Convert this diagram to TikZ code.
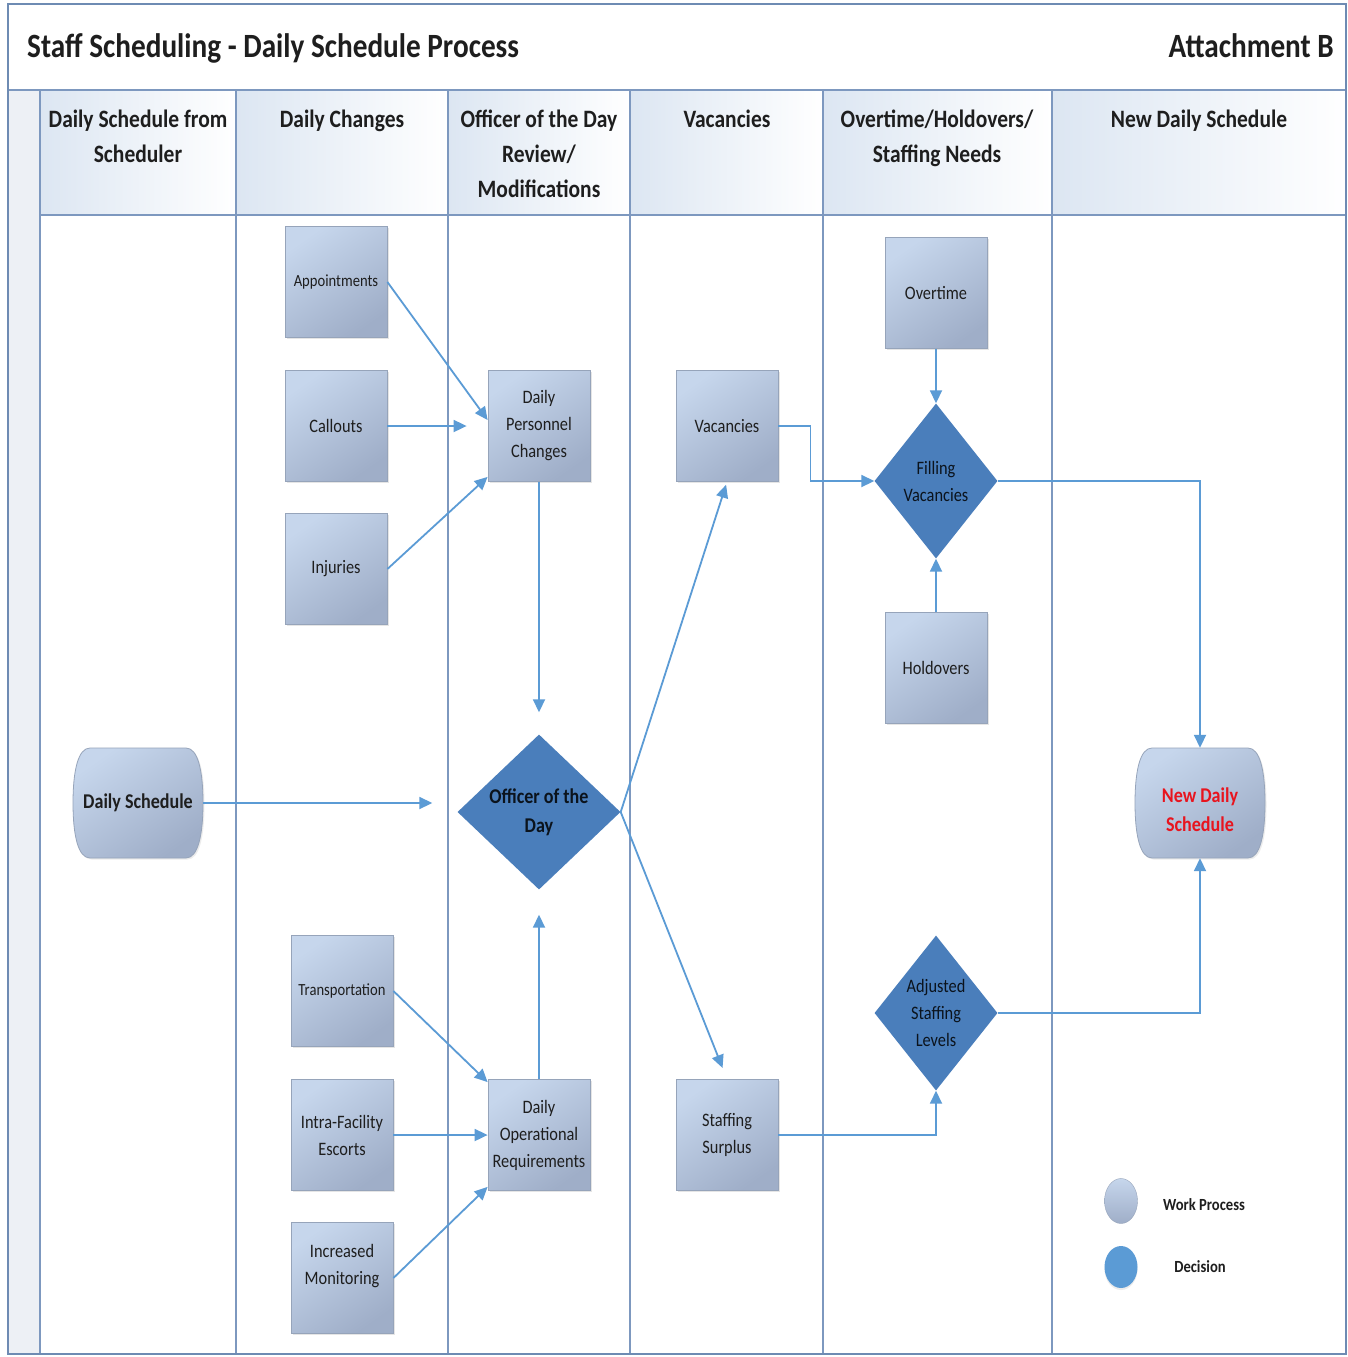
\documentclass[tikz,border=0pt]{standalone}
\usepackage{fontspec}
\setmainfont{Carlito}[FakeStretch=0.86]
\usetikzlibrary{arrows.meta,shapes.geometric,shadows}
\definecolor{conn}{HTML}{5B9BD5}
\definecolor{lane}{HTML}{7D98BF}
\definecolor{framec}{HTML}{6E8BB3}
\definecolor{boxA}{HTML}{C6D6EC}
\definecolor{boxB}{HTML}{9FAEC8}
\definecolor{boxedge}{HTML}{96A4BA}
\definecolor{dia}{HTML}{4A7EBB}
\definecolor{hdr}{HTML}{DCE6F2}
\definecolor{strip}{HTML}{EDF0F5}
\definecolor{txt}{HTML}{1E1E1E}
\definecolor{newred}{HTML}{E8141E}
\definecolor{legblue}{HTML}{5B9BD5}
\tikzset{
  proc/.style={rectangle, draw=boxedge, line width=0.8pt, top color=boxA, bottom color=boxB, shading angle=35,
    minimum width=102pt, minimum height=111pt, inner sep=2pt, align=center, text=txt,
    font=\fontsize{19}{27}\selectfont,
    drop shadow={shadow xshift=1.5pt, shadow yshift=-1.5pt, opacity=0.2}},
  dec/.style={diamond, fill=dia, draw=none, inner sep=0pt, aspect=0.79, minimum width=123pt, minimum height=155pt,
    align=center, text={black!85!dia}, font=\fontsize{19}{27}\selectfont},
  termtext/.style={rectangle, minimum width=130pt, minimum height=110pt,
    inner sep=0pt, align=center, text=txt, font=\bfseries\fontsize{21}{29}\selectfont},
  termshape/.pic={
    \shade[top color=boxA, bottom color=boxB, shading angle=35, draw=boxedge, line width=0.8pt,
      drop shadow={shadow xshift=1.5pt, shadow yshift=-1.5pt, opacity=0.15}]
      (-48,-55) -- (48,-55) .. controls (60,-55) and (65,-32) .. (65,0)
      .. controls (65,32) and (60,55) .. (48,55) -- (-48,55)
      .. controls (-60,55) and (-65,32) .. (-65,0)
      .. controls (-65,-32) and (-60,-55) .. (-48,-55) -- cycle;
  },
  hdrtext/.style={anchor=north, align=center, inner sep=0pt, text=txt, font=\bfseries\fontsize{25}{35}\selectfont},
  arr/.style={draw=conn, line width=1.8pt, -{Triangle[length=13pt,width=12pt]}},
  lanel/.style={draw=lane, line width=1.3pt}
}
\begin{document}
\begin{tikzpicture}[x=1pt,y=-1pt]
\useasboundingbox (0,0) rectangle (1348,1357);
\fill[white] (0,0) rectangle (1348,1357);
% lanes background
\fill[strip] (8,90) rectangle (40,1354);
\foreach \a/\b in {40/236,236/448,448/630,630/823,823/1052,1052/1346}
  \shade[left color=hdr, right color=white] (\a,90) rectangle (\b,215);
\draw[lanel] (8,90) -- (1346,90);
\draw[lanel] (40,215) -- (1346,215);
\foreach \x in {40,236,448,630,823,1052}
  \draw[lanel] (\x,90) -- (\x,1354);
\draw[draw=framec, line width=1.8pt] (8,4) rectangle (1346,1354);

% title
\node[anchor=base west, inner sep=0pt, text=txt, font=\bfseries\fontsize{34}{40}\selectfont] (title) at (27,57) {Staff Scheduling - Daily Schedule Process};
\node[anchor=base east, inner sep=0pt, text=txt, font=\bfseries\fontsize{34}{40}\selectfont] (attach) at (1334,57) {Attachment B};

% headers
\node[hdrtext] (h1) at (138,110) {Daily Schedule from\\Scheduler};
\node[hdrtext] (h2) at (342,110) {Daily Changes};
\node[hdrtext] (h3) at (539,110) {Officer of the Day\\Review/\\Modifications};
\node[hdrtext] (h4) at (727,110) {Vacancies};
\node[hdrtext] (h5) at (937,110) {Overtime/Holdovers/\\Staffing Needs};
\node[hdrtext] (h6) at (1199,110) {New Daily Schedule};

% process boxes
\node[proc, font=\fontsize{17}{24}\selectfont] (app) at (336,282) {Appointments};
\node[proc] (call) at (336,426) {Callouts};
\node[proc] (inj) at (336,569) {Injuries};
\node[proc] (dpc) at (539,426) {Daily\\Personnel\\Changes};
\node[proc, font=\fontsize{17}{24}\selectfont] (trans) at (342,991) {Transportation};
\node[proc] (intra) at (342,1135) {Intra-Facility\\Escorts};
\node[proc] (incr) at (342,1278) {\raisebox{8pt}[0pt][0pt]{\begin{tabular}{@{}c@{}}Increased\\Monitoring\end{tabular}}};
\node[proc] (dor) at (539,1135) {Daily\\Operational\\Requirements};
\node[proc] (vac) at (727,426) {Vacancies};
\node[proc] (ss) at (727,1135) {Staffing\\Surplus};
\node[proc] (ot) at (936,293) {Overtime};
\node[proc] (ho) at (936,668) {Holdovers};

% decisions
\node[dec, aspect=1.05, minimum width=163pt, minimum height=155pt, font=\bfseries\fontsize{21}{29}\selectfont] (oday) at (539,812) {Officer of the\\Day};
\node[dec] (fv) at (936,481) {Filling\\Vacancies};
\node[dec] (asl) at (936,1013) {Adjusted\\Staffing\\Levels};

% terminals
\pic at (138,803) {termshape};
\node[termtext] (ds) at (138,803) {Daily Schedule};
\pic at (1200,803) {termshape};
\node[termtext, text=newred] (nds) at (1200,803) {\raisebox{-13pt}[0pt][0pt]{\begin{tabular}{@{}c@{}}New Daily\\Schedule\end{tabular}}};

% legend
\node[ellipse, inner sep=0pt, minimum width=33pt, minimum height=45pt, top color=boxA, bottom color=boxB, draw=boxedge] (lg1) at (1121,1201) {};
\node[ellipse, inner sep=0pt, minimum width=33pt, minimum height=42pt, fill=legblue,
  drop shadow={shadow xshift=0pt, shadow yshift=-2pt, opacity=0.15}] (lg2) at (1121,1267) {};
\node[inner sep=0pt, text=txt, font=\bfseries\fontsize{17}{20}\selectfont] (lt1) at (1204,1205) {Work Process};
\node[inner sep=0pt, text=txt, font=\bfseries\fontsize{17}{20}\selectfont] (lt2) at (1200,1267) {Decision};

% connectors
\draw[arr] (app.east) -- ([yshift=6pt]dpc.west);
\draw[arr, shorten >=21pt] (call.east) -- (dpc.west);
\draw[arr] (inj.east) -- ([yshift=5pt]dpc.south west);
\draw[arr, shorten >=22pt] (dpc.south) -- (oday.north);
\draw[arr, shorten >=25pt] (ds.east) -- (ds.east -| oday.west);
\draw[arr, shorten >=25pt] (dor.north) -- (oday.south);
\draw[arr, shorten >=3pt] (oday.east) -- (vac.south);
\draw[arr, shorten >=12pt] (oday.east) -- (ss.north);
\draw[arr] (trans.east) -- ([yshift=-3pt]dor.north west);
\draw[arr] (intra.east) -- (dor.west);
\draw[arr] (incr.east) -- ([yshift=4pt]dor.south west);
\draw[arr] (vac.east) -- ++(32,0) |- (fv.west);
\draw[arr] (ot.south) -- (fv.north);
\draw[arr] (ho.north) -- (fv.south);
\draw[arr] (fv.east) -| (nds.north);
\draw[arr] (ss.east) -| (asl.south);
\draw[arr] (asl.east) -| (nds.south);
\end{tikzpicture}
\end{document}
